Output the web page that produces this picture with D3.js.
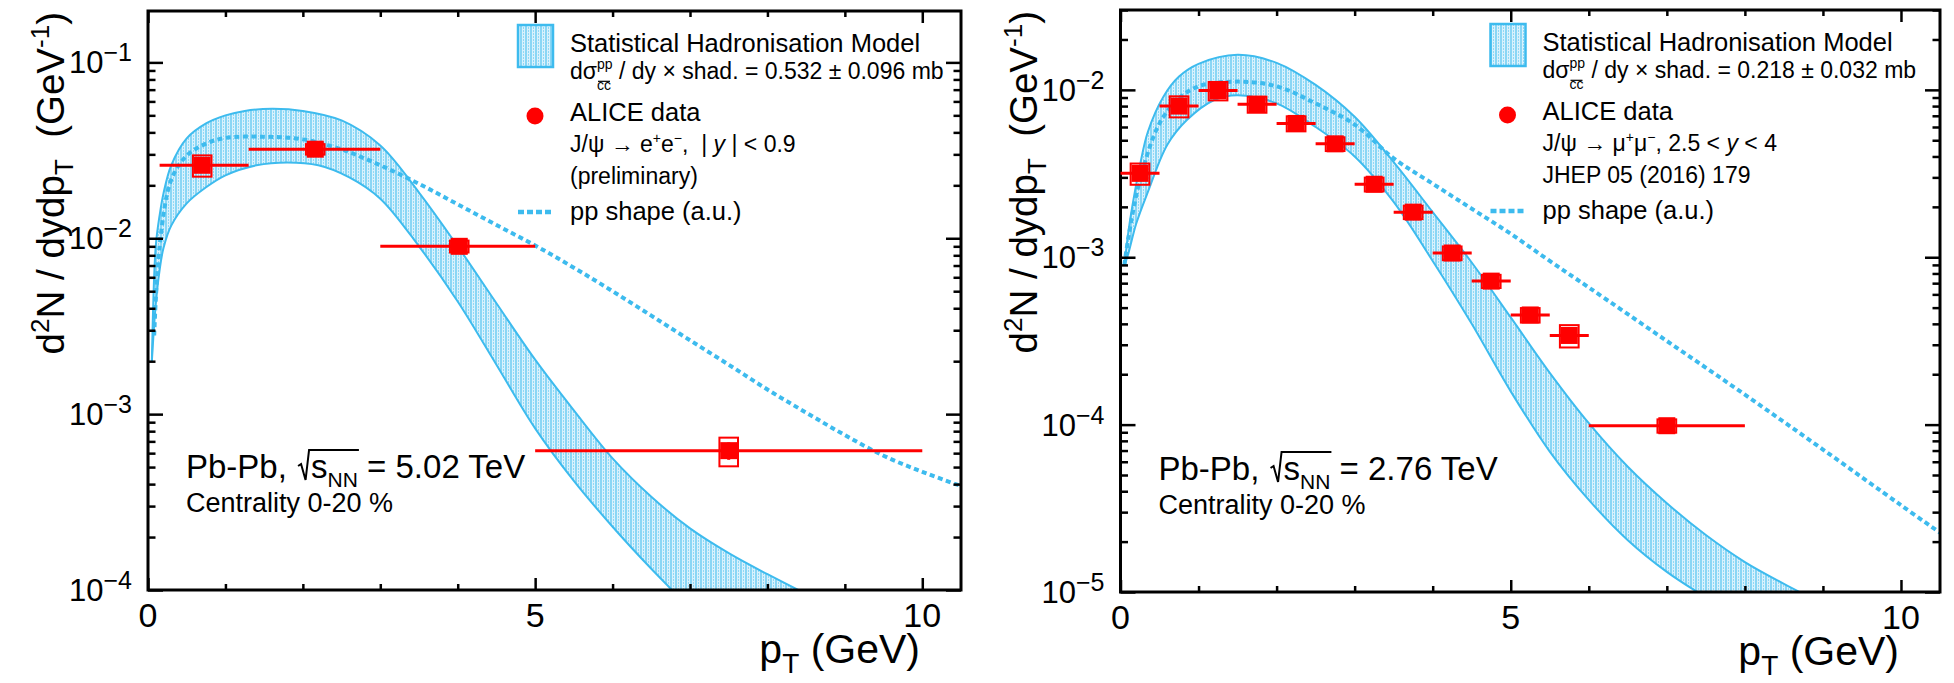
<!DOCTYPE html>
<html>
<head>
<meta charset="utf-8">
<script src="https://cdn.jsdelivr.net/npm/d3@7"></script>
<style>
  html, body { margin: 0; padding: 0; background: #ffffff; }
  svg { display: block; font-family: "Liberation Sans", Arial, Helvetica, sans-serif; }
  text { white-space: pre; }
</style>
</head>
<body>
<svg id="chart" width="1954" height="683"></svg>
<script>
// ------------------------------------------------------------------
// Pb-Pb 5.02 TeV, J/psi -> e+e-, |y| < 0.9, centrality 0-20 %
// ------------------------------------------------------------------
const ptLo502   = [0.15, 1.3, 3.0, 5.0];
const ptHi502   = [1.3, 3.0, 5.0, 10.0];
const ptMean502 = [0.70, 2.16, 4.02, 7.50];
const yield502  = [2.6e-2, 3.21e-2, 9.0e-3, 6.2e-4];
const stat502   = [1.6e-3, 1.2e-3, 4.0e-4, 0.7e-4];
const syst502   = [3.6e-3, 2.2e-3, 7.0e-4, 1.15e-4];

// Statistical hadronisation model band (upper / lower edge) and pp shape
const shmPtUp502 = [0.05, 0.1, 0.15, 0.2, 0.3, 0.5, 0.75, 1.0, 1.25, 1.6, 2.0, 2.5, 3.0, 3.5, 4.0, 4.5, 5.0, 5.5, 6.0, 6.5, 7.0, 7.5, 8.0, 8.5];
const shmUp502   = [2.0e-3, 9.0e-3, 1.35e-2, 1.8e-2, 2.6e-2, 3.7e-2, 4.5e-2, 5.0e-2, 5.3e-2, 5.45e-2, 5.3e-2, 4.68e-2, 3.37e-2, 1.82e-2, 9.0e-3, 4.27e-3, 2.04e-3, 1.05e-3, 5.6e-4, 3.39e-4, 2.24e-4, 1.62e-4, 1.23e-4, 9.5e-5];
const shmPtLo502 = [0.05, 0.1, 0.15, 0.2, 0.3, 0.5, 0.75, 1.0, 1.4, 1.8, 2.2, 2.6, 3.0, 3.5, 4.0, 4.5, 5.0, 5.5, 6.0, 6.5, 7.0];
const shmLo502   = [2.0e-3, 4.2e-3, 6.6e-3, 8.8e-3, 1.18e-2, 1.58e-2, 1.95e-2, 2.28e-2, 2.6e-2, 2.7e-2, 2.6e-2, 2.22e-2, 1.68e-2, 9.0e-3, 4.37e-3, 1.91e-3, 8.3e-4, 4.17e-4, 2.29e-4, 1.32e-4, 7.9e-5];
const ppPt502    = [0.08, 0.15, 0.3, 0.5, 0.75, 1.0, 1.5, 2.0, 2.5, 3.0, 3.5, 4.0, 4.5, 5.0, 5.5, 6.0, 6.5, 7.0, 7.5, 8.0, 8.5, 9.0, 9.5, 10.0, 10.5];
const ppShape502 = [2.8e-3, 9.0e-3, 2.15e-2, 2.95e-2, 3.45e-2, 3.72e-2, 3.78e-2, 3.65e-2, 3.2e-2, 2.6e-2, 2.04e-2, 1.56e-2, 1.19e-2, 9.1e-3, 6.8e-3, 5.0e-3, 3.63e-3, 2.63e-3, 1.91e-3, 1.38e-3, 1.02e-3, 7.6e-4, 5.8e-4, 4.7e-4, 3.9e-4];

// ------------------------------------------------------------------
// Pb-Pb 2.76 TeV, J/psi -> mu+mu-, 2.5 < y < 4, centrality 0-20 %
// ------------------------------------------------------------------
const ptLo276   = [0.0, 0.5, 1.0, 1.5, 2.0, 2.5, 3.0, 3.5, 4.0, 4.5, 5.0, 5.5, 6.0];
const ptHi276   = [0.5, 1.0, 1.5, 2.0, 2.5, 3.0, 3.5, 4.0, 4.5, 5.0, 5.5, 6.0, 8.0];
const ptMean276 = [0.25, 0.75, 1.25, 1.75, 2.25, 2.75, 3.25, 3.75, 4.25, 4.75, 5.25, 5.75, 7.0];
const yield276  = [3.17e-3, 8.0e-3, 9.9e-3, 8.2e-3, 6.3e-3, 4.76e-3, 2.73e-3, 1.86e-3, 1.06e-3, 7.2e-4, 4.52e-4, 3.41e-4, 9.85e-5];
const stat276   = [2.0e-4, 3.0e-4, 3.0e-4, 2.5e-4, 2.0e-4, 1.5e-4, 1.0e-4, 7.0e-5, 5.0e-5, 3.5e-5, 2.5e-5, 2.5e-5, 7.0e-6];
const syst276   = [4.6e-4, 1.15e-3, 1.25e-3, 9.0e-4, 6.5e-4, 4.5e-4, 2.6e-4, 1.7e-4, 1.0e-4, 6.5e-5, 4.5e-5, 5.2e-5, 9.0e-6];

const shmPtUp276 = [0.05, 0.1, 0.15, 0.25, 0.35, 0.55, 0.75, 1.0, 1.5, 2.0, 2.5, 3.0, 3.5, 4.0, 4.5, 5.0, 5.5, 6.0, 6.5, 7.0, 7.5, 8.0, 8.5, 9.0];
const shmUp276   = [8.9e-4, 1.41e-3, 2.0e-3, 3.55e-3, 5.6e-3, 9.1e-3, 1.2e-2, 1.43e-2, 1.62e-2, 1.45e-2, 1.07e-2, 6.9e-3, 3.7e-3, 1.86e-3, 9.3e-4, 4.37e-4, 2.04e-4, 1.02e-4, 5.6e-5, 3.39e-5, 2.19e-5, 1.51e-5, 1.12e-5, 8.5e-6];
const shmPtLo276 = [0.05, 0.1, 0.2, 0.35, 0.6, 0.85, 1.2, 1.5, 2.0, 2.5, 3.0, 3.5, 4.0, 4.5, 5.0, 5.5, 6.0, 6.5, 7.0, 7.5];
const shmLo276   = [8.9e-4, 1.05e-3, 1.58e-3, 2.45e-3, 4.7e-3, 6.6e-3, 8.7e-3, 9.3e-3, 8.3e-3, 6.0e-3, 4.0e-3, 2.14e-3, 9.5e-4, 4.0e-4, 1.58e-4, 6.9e-5, 3.55e-5, 2.04e-5, 1.32e-5, 9.3e-6];
const ppPt276    = [0.05, 0.1, 0.25, 0.5, 0.75, 1.0, 1.5, 2.0, 2.5, 3.0, 3.5, 4.0, 4.5, 5.0, 5.5, 6.0, 7.0, 8.0, 9.0, 10.0, 10.5];
const ppShape276 = [9.0e-4, 1.3e-3, 2.9e-3, 6.3e-3, 8.9e-3, 1.05e-2, 1.12e-2, 1.05e-2, 8.3e-3, 6.2e-3, 3.9e-3, 2.75e-3, 1.95e-3, 1.38e-3, 9.5e-4, 6.6e-4, 3.16e-4, 1.51e-4, 7.1e-5, 3.3e-5, 2.26e-5];

// Axis tick values
const xMajorTicks = [0, 5, 10];
const xMinorTicks = [1, 2, 3, 4, 6, 7, 8, 9];

// Legend / caption texts
const shmLabel   = "Statistical Hadronisation Model";
const aliceLabel = "ALICE data";
const ppLabel    = "pp shape (a.u.)";
const centLabel  = "Centrality 0-20 %";

const svg = d3.select("#chart");
const defs = svg.append("defs");

const BLUE = "#3dbbee";
const RED = "#ff0000";

// hatched fill used by the model band
const pat = defs.append("pattern").attr("id", "shmHatch")
  .attr("patternUnits", "userSpaceOnUse").attr("width", 5).attr("height", 6);
pat.append("rect").attr("width", 5).attr("height", 6).attr("fill", "#d9f1fc");
pat.append("line").attr("x1", 1).attr("x2", 1).attr("y1", 0).attr("y2", 6)
  .attr("stroke", "#55c4f1").attr("stroke-width", 1.2);
pat.append("line").attr("x1", 3.5).attr("x2", 3.5).attr("y1", 0).attr("y2", 6)
  .attr("stroke", "#8fd8f6").attr("stroke-width", 1).attr("stroke-dasharray", "2 1");

// Draws a run of text pieces (with super/subscripts and stacked indices).
function rich(g, x, y, runs, baseSize) {
  let cx = x, lastStart = x, lastW = 0;
  runs.forEach(r => {
    if (r.gap) { cx += r.gap; return; }
    const size = r.size || baseSize;
    const sx = r.stack ? lastStart : cx;
    const t = g.append("text")
      .attr("x", sx).attr("y", y + (r.dy || 0))
      .attr("font-size", size).attr("fill", "#000")
      .text(r.t);
    if (r.italic) t.attr("font-style", "italic");
    const w = t.node().getComputedTextLength();
    if (r.overline) {
      g.append("line").attr("x1", sx + 1).attr("x2", sx + w - 1)
        .attr("y1", y + (r.dy || 0) - size * 0.62).attr("y2", y + (r.dy || 0) - size * 0.62)
        .attr("stroke", "#000").attr("stroke-width", 1.2);
    }
    if (r.stack) {
      cx = lastStart + Math.max(lastW, w);
    } else {
      lastStart = sx; lastW = w; cx = sx + w;
    }
  });
  return cx;
}

function drawPanel(p) {
  const g = svg.append("g");
  const xs = d3.scaleLinear().domain([0, 10.5]).range([p.x0, p.x1]);
  const ys = d3.scaleLog().domain([p.yMin, p.yMax]).range([p.y1, p.y0]);

  const clipId = "clip" + p.id;
  defs.append("clipPath").attr("id", clipId).append("rect")
    .attr("x", p.x0).attr("y", p.y0).attr("width", p.x1 - p.x0).attr("height", p.y1 - p.y0);
  const plot = g.append("g").attr("clip-path", `url(#${clipId})`);

  // model band
  const line = d3.line().x(d => xs(d[0])).y(d => ys(d[1])).curve(d3.curveCatmullRom.alpha(0.5));
  const upPts = p.shmPtUp.map((x, i) => [x, p.shmUp[i]]);
  const loPts = p.shmPtLo.map((x, i) => [x, p.shmLo[i]]);
  const upPath = line(upPts);
  const loRevPath = line(loPts.slice().reverse());
  plot.append("path").attr("d", upPath + loRevPath.replace(/^M/, "L") + "Z")
    .attr("fill", "url(#shmHatch)").attr("stroke", "none");
  plot.append("path").attr("d", upPath).attr("fill", "none").attr("stroke", BLUE).attr("stroke-width", 2);
  plot.append("path").attr("d", line(loPts)).attr("fill", "none").attr("stroke", BLUE).attr("stroke-width", 2);

  // pp reference shape
  plot.append("path").attr("d", line(p.ppPt.map((x, i) => [x, p.pp[i]])))
    .attr("fill", "none").attr("stroke", BLUE).attr("stroke-width", 4)
    .attr("stroke-dasharray", "5 3.5");

  // frame
  g.append("rect").attr("x", p.x0).attr("y", p.y0)
    .attr("width", p.x1 - p.x0).attr("height", p.y1 - p.y0)
    .attr("fill", "none").attr("stroke", "#000").attr("stroke-width", 3);

  // ticks on all four sides (pointing inwards)
  const decades = ys.ticks().filter(v => Math.abs(Math.log10(v) - Math.round(Math.log10(v))) < 1e-9);
  const minors = ys.ticks().filter(v => !decades.includes(v));
  const tickStyle = sel => {
    sel.select(".domain").remove();
    sel.selectAll("line").attr("stroke", "#000").attr("stroke-width", 2.5);
    sel.selectAll("text").remove();
  };
  g.append("g").attr("transform", `translate(${p.x0},0)`)
    .call(d3.axisLeft(ys).tickValues(decades).tickSize(-15).tickFormat("")).call(tickStyle);
  g.append("g").attr("transform", `translate(${p.x0},0)`)
    .call(d3.axisLeft(ys).tickValues(minors).tickSize(-7.5).tickFormat("")).call(tickStyle);
  g.append("g").attr("transform", `translate(${p.x1},0)`)
    .call(d3.axisRight(ys).tickValues(decades).tickSize(-15).tickFormat("")).call(tickStyle);
  g.append("g").attr("transform", `translate(${p.x1},0)`)
    .call(d3.axisRight(ys).tickValues(minors).tickSize(-7.5).tickFormat("")).call(tickStyle);
  g.append("g").attr("transform", `translate(0,${p.y1})`)
    .call(d3.axisBottom(xs).tickValues(xMajorTicks).tickSize(-12).tickFormat("")).call(tickStyle);
  g.append("g").attr("transform", `translate(0,${p.y1})`)
    .call(d3.axisBottom(xs).tickValues(xMinorTicks).tickSize(-6).tickFormat("")).call(tickStyle);
  g.append("g").attr("transform", `translate(0,${p.y0})`)
    .call(d3.axisTop(xs).tickValues(xMajorTicks).tickSize(-12).tickFormat("")).call(tickStyle);
  g.append("g").attr("transform", `translate(0,${p.y0})`)
    .call(d3.axisTop(xs).tickValues(xMinorTicks).tickSize(-6).tickFormat("")).call(tickStyle);

  // x tick labels
  g.selectAll(".xl").data(xMajorTicks).join("text")
    .attr("x", d => xs(d)).attr("y", p.y1 + 37)
    .attr("text-anchor", "middle").attr("font-size", 34).attr("fill", "#000")
    .text(d => d);

  // y tick labels: 10^n
  decades.forEach(v => {
    const e = Math.round(Math.log10(v));
    const t = g.append("text").attr("x", p.x0 - 16).attr("y", ys(v) + 11)
      .attr("text-anchor", "end").attr("font-size", 31).attr("fill", "#000");
    t.append("tspan").text("10");
    t.append("tspan").attr("font-size", 25).attr("dy", -12).text("\u2212" + Math.abs(e));
  });

  // axis titles
  const yt = g.append("text")
    .attr("transform", `translate(${p.x0 - 84},${p.y0 + 1}) rotate(-90)`)
    .attr("text-anchor", "end").attr("font-size", 38.5).attr("fill", "#000");
  yt.append("tspan").text("d");
  yt.append("tspan").attr("font-size", 26).attr("dy", -15).text("2");
  yt.append("tspan").attr("dy", 15).text("N / dydp");
  yt.append("tspan").attr("font-size", 26).attr("dy", 9).text("T");
  yt.append("tspan").attr("dy", -9).text("  (GeV");
  yt.append("tspan").attr("font-size", 26).attr("dy", -15).text("-1");
  yt.append("tspan").attr("dy", 15).text(")");

  const xt = g.append("text").attr("x", p.x1 - 41).attr("y", p.y1 + 73)
    .attr("text-anchor", "end").attr("font-size", 41).attr("fill", "#000");
  xt.append("tspan").text("p");
  xt.append("tspan").attr("font-size", 28).attr("dy", 10).text("T");
  xt.append("tspan").attr("dy", -10).text(" (GeV)");

  // data: systematic boxes, statistical bars, bin widths, markers
  const dg = g.append("g");
  p.ptMean.forEach((x, i) => {
    const v = p.yield[i];
    dg.append("rect")
      .attr("x", xs(x - 0.12)).attr("width", xs(x + 0.12) - xs(x - 0.12))
      .attr("y", ys(v + p.syst[i])).attr("height", ys(v - p.syst[i]) - ys(v + p.syst[i]))
      .attr("fill", "none").attr("stroke", RED).attr("stroke-width", 2);
    dg.append("line").attr("x1", xs(x)).attr("x2", xs(x))
      .attr("y1", ys(v + p.stat[i])).attr("y2", ys(v - p.stat[i]))
      .attr("stroke", RED).attr("stroke-width", 3);
    dg.append("line").attr("x1", xs(p.ptLo[i])).attr("x2", xs(p.ptHi[i]))
      .attr("y1", ys(v)).attr("y2", ys(v))
      .attr("stroke", RED).attr("stroke-width", 3);
    dg.append("rect").attr("x", xs(x) - 8.5).attr("y", ys(v) - 8.5)
      .attr("width", 17).attr("height", 17).attr("fill", RED);
  });

  // legend
  const lx = p.x0 + 370;
  const tx = lx + 52;
  const lg = g.append("g");
  lg.append("rect").attr("x", lx).attr("y", p.y0 + 14).attr("width", 35).attr("height", 42)
    .attr("fill", "url(#shmHatch)").attr("stroke", BLUE).attr("stroke-width", 2.5);
  rich(lg, tx, p.y0 + 41, [{ t: shmLabel }], 25.5);
  rich(lg, tx, p.y0 + 68, [
    { t: "d\u03c3" },
    { t: "pp", size: 14, dy: -10 },
    { t: "cc", size: 14, dy: 11, stack: true, overline: true },
    { t: " / dy \u00d7 shad. = " + p.xsec + " mb" }
  ], 23);
  lg.append("circle").attr("cx", lx + 17).attr("cy", p.y0 + 105).attr("r", 8.5).attr("fill", RED);
  rich(lg, tx, p.y0 + 110, [{ t: aliceLabel }], 25.5);
  rich(lg, tx, p.y0 + 141, p.decayRuns, 23);
  rich(lg, tx, p.y0 + 173, [{ t: p.noteLabel }], 23);
  lg.append("line").attr("x1", lx).attr("x2", lx + 35)
    .attr("y1", p.y0 + 201).attr("y2", p.y0 + 201)
    .attr("stroke", BLUE).attr("stroke-width", 4.5).attr("stroke-dasharray", "6 3");
  rich(lg, tx, p.y0 + 209, [{ t: ppLabel }], 25.5);

  // collision system caption
  const cx0 = p.x0 + 38;
  const cy0 = p.y1 - 112;
  const cg = g.append("g");
  let cx = rich(cg, cx0, cy0, [{ t: "Pb-Pb, " }], 33);
  const rx = cx + 2;
  const sEnd = rich(cg, rx + 13, cy0, [{ t: "s" }, { t: "NN", size: 21, dy: 9 }], 33);
  cg.append("path")
    .attr("d", `M${rx},${cy0 - 12} L${rx + 3},${cy0 - 14} L${rx + 7.5},${cy0 + 2} L${rx + 11},${cy0 - 28} L${sEnd + 1},${cy0 - 28}`)
    .attr("fill", "none").attr("stroke", "#000").attr("stroke-width", 2);
  rich(cg, sEnd, cy0, [{ t: " = " + p.energy + " TeV" }], 33);
  rich(cg, cx0, p.y1 - 78, [{ t: centLabel }], 27);
}

drawPanel({
  id: "502", x0: 148, x1: 961, y0: 11, y1: 590, yMin: 1e-4, yMax: 0.196,
  ptLo: ptLo502, ptHi: ptHi502, ptMean: ptMean502, yield: yield502, stat: stat502, syst: syst502,
  shmPtUp: shmPtUp502, shmUp: shmUp502, shmPtLo: shmPtLo502, shmLo: shmLo502,
  ppPt: ppPt502, pp: ppShape502,
  xsec: "0.532 \u00b1 0.096", energy: "5.02",
  decayRuns: [
    { t: "J/\u03c8 \u2192 e" }, { t: "+", size: 14, dy: -9 }, { t: "e" }, { t: "\u2212", size: 14, dy: -9 },
    { t: ",  | " }, { t: "y", italic: true }, { t: " | < 0.9" }
  ],
  noteLabel: "(preliminary)"
});

drawPanel({
  id: "276", x0: 1120.5, x1: 1940, y0: 10, y1: 592, yMin: 1e-5, yMax: 0.03,
  ptLo: ptLo276, ptHi: ptHi276, ptMean: ptMean276, yield: yield276, stat: stat276, syst: syst276,
  shmPtUp: shmPtUp276, shmUp: shmUp276, shmPtLo: shmPtLo276, shmLo: shmLo276,
  ppPt: ppPt276, pp: ppShape276,
  xsec: "0.218 \u00b1 0.032", energy: "2.76",
  decayRuns: [
    { t: "J/\u03c8 \u2192 \u03bc" }, { t: "+", size: 14, dy: -9 }, { t: "\u03bc" }, { t: "\u2212", size: 14, dy: -9 },
    { t: ", 2.5 < " }, { t: "y", italic: true }, { t: " < 4" }
  ],
  noteLabel: "JHEP 05 (2016) 179"
});
</script>
</body>
</html>
